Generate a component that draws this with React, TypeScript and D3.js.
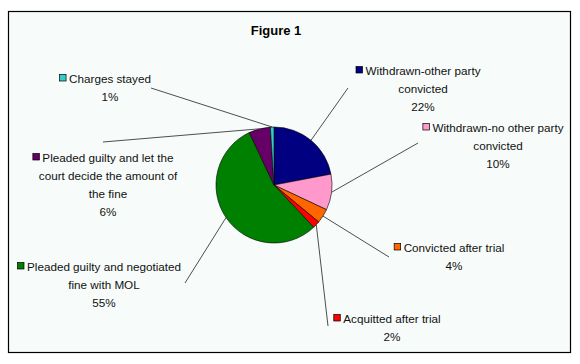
import React, { useEffect, useRef } from 'react'
import * as d3 from 'd3'

// slices, clockwise from 12 o'clock
const categories = [
  'Withdrawn-other party convicted',
  'Withdrawn-no other party convicted',
  'Convicted after trial',
  'Acquitted after trial',
  'Pleaded guilty and negotiated fine with MOL',
  'Pleaded guilty and let the court decide the amount of the fine',
  'Charges stayed',
]
const values = [22, 10, 4, 2, 55, 6, 1]
const colors = ['#000080', '#ff99cc', '#ff6600', '#ff0000', '#008000', '#660066', '#33cccc']
// how each data label is broken into lines (name lines, then the percent)
const labelLines = [
  ['Withdrawn-other party', 'convicted'],
  ['Withdrawn-no other party', 'convicted'],
  ['Convicted after trial'],
  ['Acquitted after trial'],
  ['Pleaded guilty and negotiated', 'fine with MOL'],
  ['Pleaded guilty and let the', 'court decide the amount of', 'the fine'],
  ['Charges stayed'],
]

// label layout: text centre x, first line y, leader line end
const labelPos = [
  { x: 423, y: 70, lx: 348, ly: 88 },
  { x: 498, y: 127, lx: 418, ly: 143 },
  { x: 454, y: 247, lx: 389, ly: 257 },
  { x: 392, y: 318, lx: 328, ly: 326 },
  { x: 104, y: 266, lx: 185, ly: 283 },
  { x: 108, y: 157, lx: 103, ly: 142 },
  { x: 110, y: 78, lx: 151, ly: 88 },
]

const W = 580
const H = 364
const cx = 274
const cy = 185
const R = 58
const LH = 18.3

const App = () => {
  const svgRef = useRef<SVGSVGElement>(null)

  useEffect(() => {
    const svg = d3.select(svgRef.current)
    svg.selectAll('*').remove()

    svg.append('rect')
      .attr('x', 8.5).attr('y', 11.5)
      .attr('width', 562).attr('height', 341)
      .attr('fill', '#f7fcfa')
      .attr('stroke', '#000')
      .attr('stroke-width', 1.2)

    svg.append('text')
      .attr('x', 276).attr('y', 30)
      .attr('text-anchor', 'middle')
      .attr('dominant-baseline', 'central')
      .attr('font-family', 'Liberation Sans, Arial, sans-serif')
      .attr('font-weight', 'bold')
      .attr('font-size', 13)
      .text('Figure 1')

    const pie = d3.pie<number>().sort(null).value(d => d)
    const arcs = pie(values)
    const arc = d3.arc<d3.PieArcDatum<number>>().innerRadius(0).outerRadius(R)

    const g = svg.append('g').attr('transform', `translate(${cx},${cy})`)
    g.selectAll('path')
      .data(arcs)
      .join('path')
      .attr('d', arc)
      .attr('fill', (d, i) => colors[i])
      .attr('stroke', '#000')
      .attr('stroke-width', 0.6)

    const total = d3.sum(values)

    // leader lines
    svg.selectAll('.leader')
      .data(arcs)
      .join('line')
      .attr('class', 'leader')
      .attr('x1', d => cx + R * Math.sin((d.startAngle + d.endAngle) / 2))
      .attr('y1', d => cy - R * Math.cos((d.startAngle + d.endAngle) / 2))
      .attr('x2', (d, i) => labelPos[i].lx)
      .attr('y2', (d, i) => labelPos[i].ly)
      .attr('stroke', '#222')
      .attr('stroke-width', 0.8)

    const labels = svg.selectAll('.lbl')
      .data(categories)
      .join('g')
      .attr('class', 'lbl')
      .attr('font-family', 'Liberation Sans, Arial, sans-serif')
      .attr('font-size', 11.7)
      .attr('fill', '#111')

    labels.each(function (name, i) {
      const grp = d3.select(this)
      const p = labelPos[i]
      const lines = [...labelLines[i], Math.round((values[i] / total) * 100) + '%']
      lines.forEach((ln, k) => {
        const t = grp.append('text')
          .attr('x', p.x)
          .attr('y', p.y + k * LH)
          .attr('text-anchor', 'middle')
          .attr('dominant-baseline', 'central')
          .text(ln)
        if (k === 0) {
          const w = (t.node() as SVGTextElement).getComputedTextLength()
          grp.append('rect')
            .attr('x', p.x - w / 2 - 9.5)
            .attr('y', p.y - 3.5)
            .attr('width', 6.5).attr('height', 6.5)
            .attr('fill', colors[i])
            .attr('stroke', '#000')
            .attr('stroke-width', 0.7)
        }
      })
    })
  }, [])

  return (
    <svg ref={svgRef} width={W} height={H}
      style={{ position: 'absolute', left: 0, top: 0, background: '#fff' }} />
  )
}

export default App
